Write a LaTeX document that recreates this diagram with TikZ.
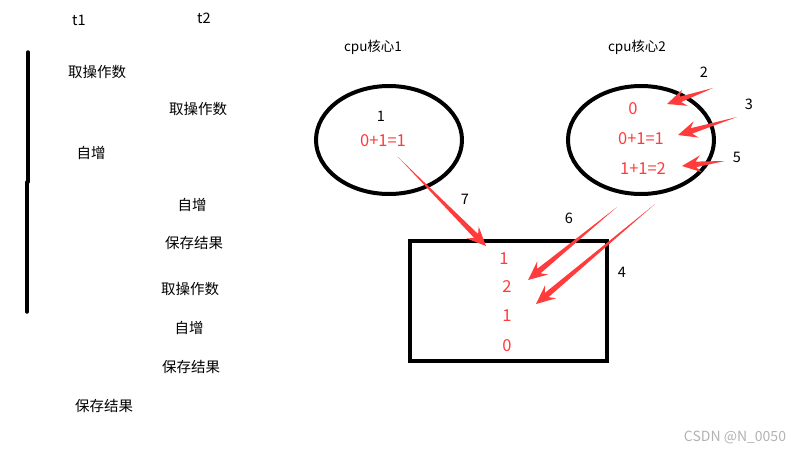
\documentclass[tikz,border=0pt]{standalone}
\usepackage{fontspec}
\setmainfont{Noto Sans CJK SC}
\usepackage{tikz}
\usetikzlibrary{positioning,calc,shapes.geometric}
\definecolor{hotred}{HTML}{FF3B3B}

% tapered red arrow from #1 to #2
\newcommand{\redarrow}[2]{%
  \coordinate (nk) at ($(#2)!14pt!(#1)$);
  \coordinate (wg) at ($(#2)!19pt!(#1)$);
  \fill[hotred] (#1) -- ($(nk)!2.8pt!90:(#2)$) -- ($(wg)!8.5pt!90:(#2)$)
    -- (#2) -- ($(wg)!8.5pt!-90:(#2)$) -- ($(nk)!2.8pt!-90:(#2)$) -- cycle;
}

\begin{document}
\begin{tikzpicture}[
    x=1pt, y=-1pt,
    txt/.style={
        inner sep=0pt,
        font=\fontsize{14.5}{17}\selectfont
    },
    val/.style={
        txt,
        text=hotred,
        font=\fontsize{16.5}{19}\selectfont
    },
    core/.style={
        ellipse,
        draw,
        line width=4pt,
        minimum width=146pt,
        minimum height=108pt
    }
]
\useasboundingbox (0,0) rectangle (796,450);

% Thread headers and time line
\node[txt] (t1) at (79,20) {t1};
\node[txt] (t2) at (204,18) {t2};
\draw[line width=3.5pt, line cap=round] (28,52) -- (28,182);
\draw[line width=3.5pt, line cap=round] (27,182) -- (27,312);

% Steps of both threads
\node[txt] (s1) at (97,72)   {取操作数};
\node[txt] (s2) at (198,109) {取操作数};
\node[txt] (s3) at (91,153)  {自增};
\node[txt] (s4) at (192,205) {自增};
\node[txt] (s5) at (194,243) {保存结果};
\node[txt] (s6) at (190,289) {取操作数};
\node[txt] (s7) at (189,328) {自增};
\node[txt] (s8) at (191,367) {保存结果};
\node[txt] (s9) at (104,406) {保存结果};

% CPU cores
\node[txt, font=\fontsize{13.5}{16}\selectfont] (c1) at (373,47) {cpu核心1};
\node[txt, font=\fontsize{13.5}{16}\selectfont] (c2) at (637,47) {cpu核心2};
\node[core] (core1) at (389,140) {};
\node[core] (core2) at (641,140) {};

\node[txt] (n1) at (381,116) {1};
\node[val] (r1) at (383,141) {0+1=1};
\node[val] (q1) at (633,109) {0};
\node[val] (q2) at (641,139) {0+1=1};
\node[val] (q3) at (643,169) {1+1=2};

% Memory
\node[draw, line width=4pt, minimum width=197pt, minimum height=120pt]
    (mem) at (508.5,301) {};
\node[val] (m1) at (504,259) {1};
\node[val] (m2) at (507,287) {2};
\node[val] (m3) at (507,316) {1};
\node[val] (m4) at (507,346) {0};

% Step numbers
\node[txt] (k2) at (704,72)  {2};
\node[txt] (k3) at (749,104) {3};
\node[txt] (k5) at (737,157) {5};
\node[txt] (k7) at (465,199) {7};
\node[txt] (k6) at (569,218) {6};
\node[txt] (k4) at (622,272) {4};

% Arrows
\coordinate (a7s) at (398,157);  \coordinate (a7e) at (486,246);
\coordinate (a2s) at (713,88);   \coordinate (a2e) at (667,104);
\coordinate (a3s) at (737,117);  \coordinate (a3e) at (678,135);
\coordinate (a5s) at (725,161);  \coordinate (a5e) at (682,166);
\coordinate (a6s) at (617,207);  \coordinate (a6e) at (528,280);
\coordinate (a8s) at (655,204);  \coordinate (a8e) at (536,304);
\redarrow{a7s}{a7e}
\redarrow{a2s}{a2e}
\redarrow{a3s}{a3e}
\redarrow{a5s}{a5e}
\redarrow{a6s}{a6e}
\redarrow{a8s}{a8e}

% Watermark
\node[txt, font=\fontsize{14}{16}\selectfont, text=black!30] (wm) at (735,437) {CSDN @N\_0050};
\end{tikzpicture}
\end{document}
